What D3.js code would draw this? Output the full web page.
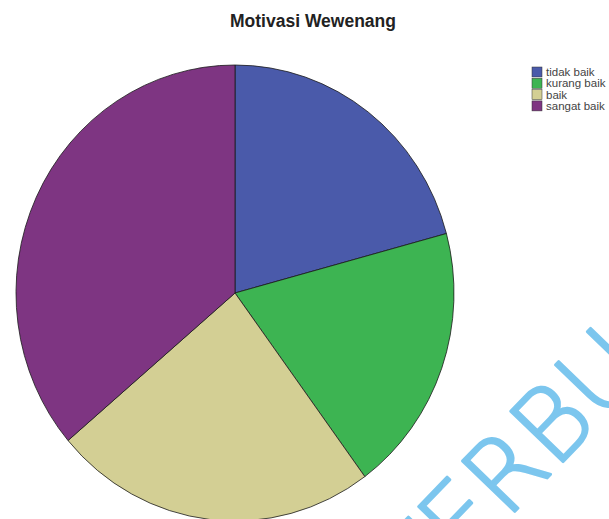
<!DOCTYPE html>
<html>
<head>
<meta charset="utf-8">
<script src="https://cdn.jsdelivr.net/npm/d3@7"></script>
<style>
  html, body { margin: 0; padding: 0; background: #fff; }
  svg { display: block; }
</style>
</head>
<body>
<script>
// Category labels and their shares (percent of respondents)
const categories = ["tidak baik", "kurang baik", "baik", "sangat baik"];
const values = [20.8, 19.1, 23.9, 36.2];
const colors = ["#4A5AAA", "#3DB452", "#D3CF94", "#7E3582"];
const title = "Motivasi Wewenang";

const W = 609, H = 519;
const svg = d3.select("body").append("svg").attr("width", W).attr("height", H);

// Watermark across the lower right corner (drawn first, behind everything)
svg.append("text")
  .attr("transform", "translate(420,610) rotate(-46)")
  .attr("font-family", "DejaVu Sans, sans-serif")
  .attr("font-weight", "200")
  .attr("font-size", 100)
  .attr("fill", "#7CC6EE")
  .attr("stroke", "#7CC6EE")
  .attr("stroke-width", 2.6)
  .attr("stroke-linejoin", "round")
  .text("TERBUKA");

// Title
svg.append("text")
  .attr("x", 313).attr("y", 27)
  .attr("text-anchor", "middle")
  .attr("font-family", "Liberation Sans, Arial, sans-serif")
  .attr("font-weight", "bold")
  .attr("font-size", 17.5)
  .attr("fill", "#222")
  .text(title);

// Pie: slices run clockwise from 12 o'clock, slightly taller than wide
const rx = 219, ry = 228;
const cx = 235, cy = 293;
const pie = d3.pie().sort(null).value(d => d);
const arc = d3.arc().innerRadius(0).outerRadius(rx);
const slices = pie(values);

const g = svg.append("g")
  .attr("transform", `translate(${cx},${cy}) scale(1,${ry / rx})`);
g.selectAll("path")
  .data(slices)
  .join("path")
  .attr("d", arc)
  .attr("fill", (d, i) => colors[i])
  .attr("stroke", "#1a1a1a")
  .attr("stroke-width", 0.8)
  .attr("vector-effect", "non-scaling-stroke");

// Legend
const legend = svg.append("g").attr("transform", "translate(532,67)");
const item = legend.selectAll("g")
  .data(categories)
  .join("g")
  .attr("transform", (d, i) => `translate(0,${i * 11.3})`);
item.append("rect")
  .attr("width", 10).attr("height", 10)
  .attr("fill", (d, i) => colors[i])
  .attr("stroke", "#333").attr("stroke-width", 0.5);
item.append("text")
  .attr("x", 14).attr("y", 9)
  .attr("font-family", "Liberation Sans, Arial, sans-serif")
  .attr("font-size", 11.5)
  .attr("fill", "#444")
  .text(d => d);
</script>
</body>
</html>
